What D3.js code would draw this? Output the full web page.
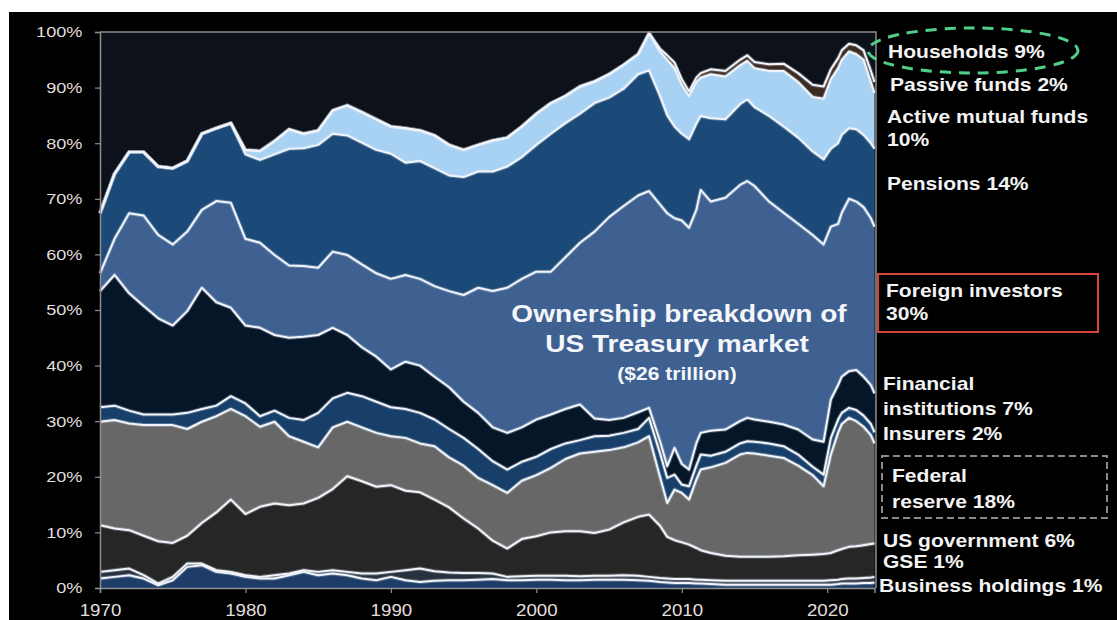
<!DOCTYPE html>
<html>
<head>
<meta charset="utf-8">
<script src="https://cdn.jsdelivr.net/npm/d3@7"></script>
<style>
  html, body { margin: 0; padding: 0; background: #ffffff; }
  svg { display: block; }
</style>
</head>
<body>
<svg id="chart" width="1117" height="620"></svg>
<script>
// Share of US Treasury market held by each owner group, % of total.
const years = [
  1970, 1971, 1972, 1973, 1974, 1975, 1976, 1977, 1978, 1979,
  1980, 1981, 1982, 1983, 1984, 1985, 1986, 1987, 1988, 1989,
  1990, 1991, 1992, 1993, 1994, 1995, 1996, 1997, 1998, 1999,
  2000, 2001, 2002, 2003, 2004, 2005, 2006, 2007,
  2007.75, 2008.5, 2009, 2009.5, 2010, 2010.5, 2011, 2011.3, 2012, 2013,
  2014, 2014.5, 2015, 2016, 2017, 2018, 2019, 2019.75, 2020.25, 2020.75,
  2021, 2021.5, 2022, 2022.5, 2023, 2023.25
];

const businessHoldings = [
  1.7, 2.0, 2.3, 1.7, 0.5, 1.4, 3.8, 4.1, 2.9, 2.6,
  2.0, 1.7, 1.7, 2.3, 2.9, 2.3, 2.6, 2.3, 1.7, 1.4,
  2.0, 1.4, 1.1, 1.3, 1.4, 1.4, 1.5, 1.6, 1.4, 1.4,
  1.5, 1.5, 1.4, 1.4, 1.5, 1.5, 1.5, 1.4,
  1.3, 1.1, 1.0, 0.9, 0.9, 0.9, 0.8, 0.8, 0.7, 0.6,
  0.6, 0.6, 0.6, 0.6, 0.6, 0.6, 0.6, 0.6, 0.6, 0.7,
  0.8, 0.8, 0.8, 0.9, 0.9, 1.0
];

const gse = [
  1.2, 1.2, 1.2, 0.6, 0.3, 0.6, 0.6, 0.3, 0.3, 0.3,
  0.3, 0.3, 0.6, 0.3, 0.3, 0.6, 0.6, 0.6, 0.9, 1.2,
  0.9, 1.8, 2.4, 1.7, 1.4, 1.3, 1.2, 1.0, 0.6, 0.7,
  0.7, 0.7, 0.8, 0.7, 0.7, 0.7, 0.8, 0.8,
  0.7, 0.7, 0.7, 0.7, 0.7, 0.7, 0.7, 0.7, 0.7, 0.7,
  0.7, 0.7, 0.7, 0.7, 0.7, 0.7, 0.7, 0.7, 0.8, 0.8,
  0.8, 0.9, 0.9, 0.9, 1.0, 1.0
];

const usGovernment = [
  8.4, 7.5, 6.9, 7.1, 7.6, 6.1, 5.0, 7.3, 10.4, 13.0,
  11.0, 12.6, 12.9, 12.3, 12.0, 13.3, 14.6, 17.2, 16.6, 15.6,
  15.6, 14.3, 13.7, 12.9, 11.7, 9.8, 8.0, 5.9, 5.1, 6.7,
  7.1, 7.8, 8.0, 8.1, 7.7, 8.3, 9.5, 10.6,
  11.2, 9.4, 7.5, 7.0, 6.6, 6.2, 5.7, 5.3, 4.9, 4.5,
  4.3, 4.3, 4.3, 4.3, 4.4, 4.6, 4.7, 4.8, 4.9, 5.3,
  5.4, 5.7, 5.8, 5.9, 6.0, 6.0
];

const federalReserve = [
  18.6, 19.5, 19.2, 19.9, 20.9, 21.2, 19.2, 18.2, 17.3, 16.3,
  17.6, 14.4, 14.7, 12.4, 11.1, 9.1, 11.1, 9.8, 9.7, 9.7,
  8.8, 9.5, 8.8, 9.6, 9.0, 9.5, 9.1, 10.0, 10.0, 10.5,
  11.0, 11.6, 13.0, 14.0, 14.6, 14.3, 13.5, 13.4,
  14.1, 8.8, 6.1, 9.1, 8.9, 8.1, 12.3, 14.5, 15.4, 16.7,
  18.4, 18.7, 18.6, 18.2, 17.7, 16.1, 14.3, 12.2, 17.7, 21.2,
  22.5, 23.2, 22.5, 21.3, 19.6, 18.0
];

const insurers = [
  2.6, 2.6, 2.3, 1.9, 1.9, 1.9, 2.9, 2.3, 1.9, 2.3,
  2.3, 1.9, 2.0, 3.3, 3.9, 6.2, 5.2, 5.2, 5.6, 5.6,
  5.2, 5.2, 5.5, 4.8, 5.1, 5.0, 5.2, 4.3, 4.2, 3.4,
  3.3, 3.4, 2.8, 2.4, 2.8, 2.6, 2.6, 2.4,
  3.3, 4.3, 4.5, 2.7, 1.5, 2.4, 2.5, 2.7, 2.1, 2.0,
  2.0, 2.1, 2.1, 2.2, 2.1, 2.0, 1.5, 2.1, 3.0, 2.3,
  2.0, 1.8, 2.0, 2.0, 2.0, 2.0
];

const financialInstitutions = [
  20.9, 23.5, 21.1, 19.5, 17.3, 16.0, 18.3, 21.8, 18.6, 15.9,
  14.0, 15.9, 13.6, 14.4, 15.0, 14.0, 12.7, 10.4, 8.8, 8.1,
  6.8, 8.5, 8.5, 7.7, 7.5, 6.5, 6.5, 6.1, 6.6, 6.2,
  6.7, 6.2, 6.2, 6.4, 3.2, 2.8, 2.7, 3.0,
  1.8, 2.1, 2.1, 4.8, 3.7, 3.0, 4.0, 3.9, 4.5, 4.0,
  4.0, 4.2, 4.0, 3.9, 3.9, 4.5, 4.9, 5.9, 6.9, 6.2,
  6.5, 6.6, 7.2, 7.0, 7.0, 7.0
];

const foreignInvestors = [
  3.2, 6.5, 14.4, 16.3, 15.0, 14.6, 14.3, 14.0, 18.2, 18.9,
  15.6, 15.3, 14.4, 13.0, 12.7, 12.1, 13.7, 14.4, 14.9, 15.0,
  16.3, 15.6, 15.6, 16.3, 17.3, 19.2, 22.5, 24.5, 26.1, 26.7,
  26.6, 25.7, 27.3, 29.1, 33.6, 36.5, 38.1, 39.0,
  39.0, 42.6, 45.5, 41.3, 43.8, 43.5, 42.0, 43.7, 41.2, 41.7,
  42.5, 42.6, 42.0, 39.6, 38.1, 37.0, 36.8, 35.5, 31.1, 29.0,
  29.5, 31.0, 30.3, 30.5, 30.0, 30.0
];

const pensions = [
  10.8, 11.7, 11.0, 11.4, 12.3, 13.7, 12.7, 13.7, 13.1, 14.3,
  15.2, 14.9, 18.1, 21.0, 21.2, 22.1, 21.2, 21.5, 21.9, 22.2,
  22.5, 20.2, 21.2, 21.2, 20.8, 21.2, 20.9, 21.5, 21.8, 21.9,
  22.8, 24.8, 24.1, 23.2, 23.1, 21.5, 21.1, 21.8,
  21.7, 19.5, 17.6, 16.5, 15.6, 15.9, 15.5, 13.3, 15.0, 14.1,
  14.5, 14.7, 14.2, 15.4, 15.5, 15.5, 15.0, 15.3, 14.0, 14.5,
  14.0, 12.7, 13.0, 13.0, 13.5, 14.0
];

const activeMutualFunds = [
  0, 0, 0, 0, 0, 0, 0, 0, 0, 0,
  0.8, 1.6, 2.4, 3.5, 2.6, 2.6, 4.2, 5.4, 5.5, 5.5,
  4.9, 6.2, 5.5, 5.9, 5.5, 4.9, 4.8, 5.6, 5.2, 5.5,
  5.6, 5.5, 4.9, 4.9, 3.9, 4.2, 4.3, 3.6,
  6.7, 8.0, 10.0, 10.5, 8.8, 7.8, 7.5, 6.9, 7.9, 7.7,
  7.0, 6.9, 7.0, 8.1, 10.0, 10.0, 9.8, 10.9, 12.5, 13.5,
  13.5, 13.8, 13.5, 13.5, 11.0, 10.0
];

const passiveFunds = [
  0, 0, 0, 0, 0, 0, 0, 0, 0, 0,
  0, 0, 0, 0, 0, 0, 0, 0, 0, 0,
  0, 0, 0, 0, 0, 0, 0, 0, 0, 0,
  0, 0, 0, 0, 0, 0, 0, 0,
  0, 0.5, 0.8, 1.0, 1.0, 0.8, 0.8, 0.8, 0.9, 1.0,
  1.0, 1.0, 1.1, 1.2, 1.3, 1.6, 2.2, 2.2, 1.8, 1.8,
  1.7, 1.4, 1.6, 1.7, 2.0, 2.0
];

const households = [
  32.6, 25.5, 21.6, 21.6, 24.2, 24.5, 23.2, 18.3, 17.3, 16.4,
  21.2, 21.4, 19.6, 17.5, 18.3, 17.7, 14.1, 13.2, 14.4, 15.7,
  17.0, 17.3, 17.7, 18.6, 20.3, 21.2, 20.3, 19.5, 19.0, 17.0,
  14.7, 12.8, 11.5, 9.8, 8.9, 7.6, 5.9, 4.0,
  0.2, 3.0, 4.2, 5.5, 8.5, 10.7, 8.2, 7.4, 6.7, 7.0,
  5.0, 4.2, 5.4, 5.8, 5.7, 7.4, 9.5, 9.8, 6.7, 4.7,
  3.3, 2.1, 2.4, 3.3, 7.0, 9.0
];

const xTickValues = [1970, 1980, 1990, 2000, 2010, 2020];
const yTickValues = [0, 10, 20, 30, 40, 50, 60, 70, 80, 90, 100];

// Side labels, top to bottom (each entry is one label block)
const sideLabels = [
  ["Households 9%"],
  ["Passive funds 2%"],
  ["Active mutual funds", "10%"],
  ["Pensions 14%"],
  ["Foreign investors", "30%"],
  ["Financial", "institutions 7%"],
  ["Insurers 2%"],
  ["Federal", "reserve 18%"],
  ["US government 6%"],
  ["GSE 1%"],
  ["Business holdings 1%"]
];
const titleLines = ["Ownership breakdown of", "US Treasury market"];
const subtitle = "($26 trillion)";

// ---- build the stacked table ----
const seriesDefs = [
  { key: "business",  values: businessHoldings,      color: "#1e3c68" },
  { key: "gse",       values: gse,                   color: "#27303d" },
  { key: "usgov",     values: usGovernment,          color: "#262626" },
  { key: "fed",       values: federalReserve,        color: "#676767" },
  { key: "insurers",  values: insurers,              color: "#173f69" },
  { key: "financial", values: financialInstitutions, color: "#061629" },
  { key: "foreign",   values: foreignInvestors,      color: "#3e6191" },
  { key: "pensions",  values: pensions,              color: "#1b4a78" },
  { key: "active",    values: activeMutualFunds,     color: "#a8d2f4" },
  { key: "passive",   values: passiveFunds,          color: "#3a2a22" },
  { key: "households",values: households,            color: "#0d1119" }
];

const table = years.map((yr, i) => {
  const row = { year: yr };
  seriesDefs.forEach(s => { row[s.key] = s.values[i]; });
  return row;
});

const stack = d3.stack().keys(seriesDefs.map(s => s.key));
const layers = stack(table);

// ---- scales & layout ----
const svg = d3.select("#chart");
const STRETCH = 1.17;          // horizontal text stretch
const FONT = "'Liberation Sans', Arial, Helvetica, sans-serif";

const plotL = 100, plotR = 876, plotT = 32, plotB = 588;
const x = d3.scaleLinear().domain([1970, 2023.25]).range([plotL, 874.5]);
const y = d3.scaleLinear().domain([0, 100]).range([plotB, plotT]);

// black panel under everything except a thin white margin
svg.append("rect").attr("x", 9).attr("y", 12).attr("width", 1108).attr("height", 608)
  .attr("fill", "#000000");

// plot background
svg.append("rect").attr("x", plotL).attr("y", plotT)
  .attr("width", plotR - plotL).attr("height", plotB - plotT)
  .attr("fill", "#0d1119");

const area = d3.area()
  .x(d => x(d.data.year))
  .y0(d => y(d[0]))
  .y1(d => y(d[1]));

const plot = svg.append("g");
plot.selectAll("path.layer")
  .data(layers)
  .join("path")
  .attr("class", "layer")
  .attr("d", area)
  .attr("fill", (d, i) => seriesDefs[i].color);

// white boundaries on top of each band
const edge = d3.line()
  .x(d => x(d.data.year))
  .y(d => y(d[1]));
const edged = layers.filter(l => l.key !== "households");

plot.selectAll("path.glow")
  .data(edged)
  .join("path")
  .attr("class", "glow")
  .attr("d", edge)
  .attr("fill", "none")
  .attr("stroke", "#dfe8f3")
  .attr("stroke-opacity", 0.28)
  .attr("stroke-width", 4)
  .attr("stroke-linejoin", "round");

plot.selectAll("path.edge")
  .data(edged)
  .join("path")
  .attr("class", "edge")
  .attr("d", edge)
  .attr("fill", "none")
  .attr("stroke", "#f1f5fb")
  .attr("stroke-width", 2)
  .attr("stroke-linejoin", "round");

// frame (top and right)
svg.append("path")
  .attr("d", `M${plotL},${plotT}H${plotR}V${plotB}`)
  .attr("fill", "none")
  .attr("stroke", "#8e8e8e")
  .attr("stroke-width", 1.5);

// ---- axes ----
const yAxis = d3.axisLeft(y)
  .tickValues(yTickValues)
  .tickFormat(d => d + "%")
  .tickSize(5)
  .tickPadding(10);

const gy = svg.append("g").attr("transform", `translate(${plotL},0)`).call(yAxis);
const xAxis = d3.axisBottom(x)
  .tickValues(xTickValues)
  .tickFormat(d3.format("d"))
  .tickSize(5)
  .tickPadding(11.5);
const gx = svg.append("g").attr("transform", `translate(0,${plotB})`).call(xAxis);

[gy, gx].forEach(g => {
  g.select(".domain").attr("stroke", "#8e8e8e").attr("stroke-width", 1.5);
  g.selectAll(".tick line").attr("stroke", "#8e8e8e").attr("stroke-width", 1.2);
  g.selectAll(".tick text")
    .attr("fill", "#e2dfdc")
    .style("font-family", FONT);
});
gy.selectAll(".tick text").style("font-size", "15.5px")
  .attr("transform", `scale(${STRETCH},1)`);
gx.selectAll(".tick text").style("font-size", "16px")
  .attr("transform", `scale(${STRETCH},1)`);

// ---- text helpers ----
function label(x0, y0, str, size, opts = {}) {
  return svg.append("text")
    .attr("transform", `translate(${x0},${y0}) scale(${STRETCH},1)`)
    .attr("text-anchor", opts.anchor || "start")
    .attr("fill", opts.fill || "#f3f3f3")
    .style("font-family", FONT)
    .style("font-weight", opts.weight || "bold")
    .style("font-size", size + "px")
    .text(str);
}

// title inside the chart
label(679, 322, titleLines[0], 24, { anchor: "middle", fill: "#f4f6fa" });
label(677, 352, titleLines[1], 24, { anchor: "middle", fill: "#f4f6fa" });
label(677, 380, subtitle, 18, { anchor: "middle", fill: "#f4f6fa" });

// side labels: [x, first baseline] for each block
const labelPos = [
  [888, 58], [890, 91], [887, 123], [887, 190], [886, 297],
  [883, 390], [883, 440], [892, 482], [883, 547], [883, 568], [879, 592]
];
sideLabels.forEach((lines, i) => {
  const [lx, ly] = labelPos[i];
  const step = (i === 7) ? 26 : (i === 5 ? 25 : 22.5);
  lines.forEach((t, j) => label(lx, ly + j * step, t, 18));
});

// highlight marks around three labels
svg.append("ellipse")
  .attr("cx", 973).attr("cy", 50.5).attr("rx", 105).attr("ry", 22.5)
  .attr("fill", "none")
  .attr("stroke", "#4fcf88")
  .attr("stroke-width", 3)
  .attr("stroke-dasharray", "11,8");

svg.append("rect")
  .attr("x", 878).attr("y", 274).attr("width", 220).attr("height", 58)
  .attr("fill", "none")
  .attr("stroke", "#d5443f")
  .attr("stroke-width", 2);

svg.append("rect")
  .attr("x", 882).attr("y", 456).attr("width", 225).attr("height", 62)
  .attr("fill", "none")
  .attr("stroke", "#8a8a8a")
  .attr("stroke-width", 2)
  .attr("stroke-dasharray", "7,4");
</script>
</body>
</html>
